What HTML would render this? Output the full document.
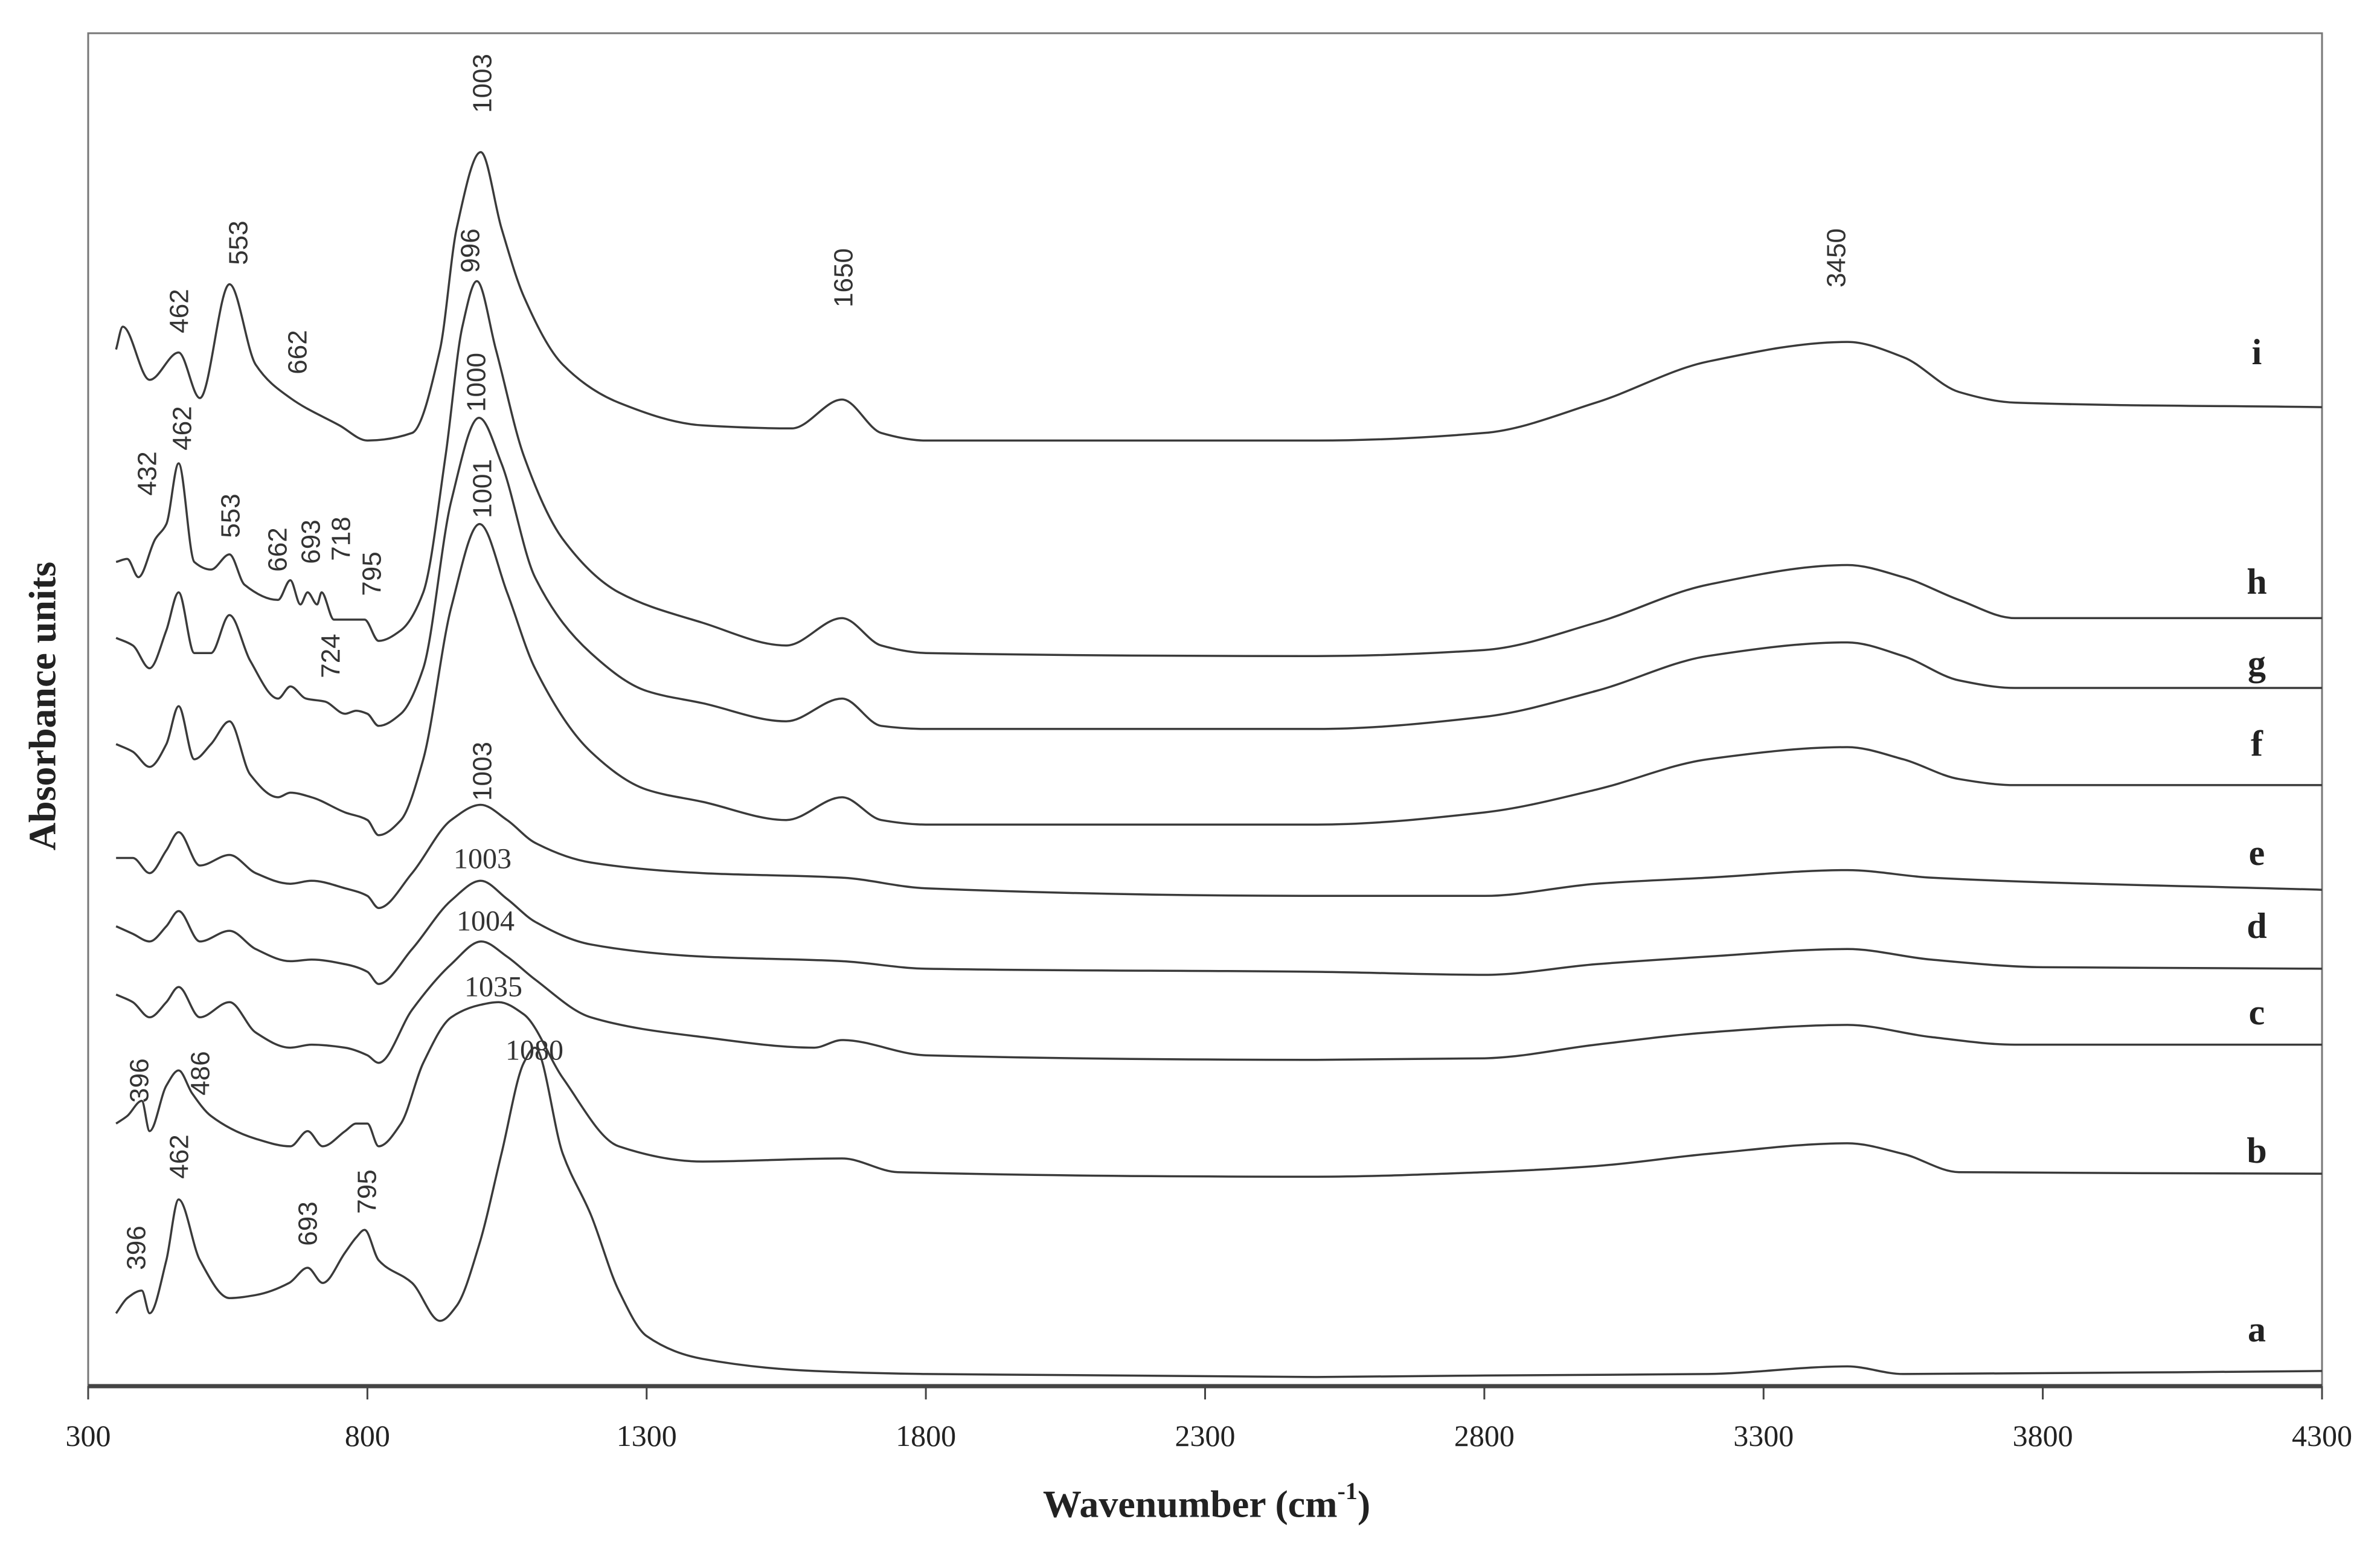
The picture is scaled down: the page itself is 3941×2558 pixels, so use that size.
<!DOCTYPE html>
<html><head><meta charset="utf-8">
<style>
html,body{margin:0;padding:0;background:#fff;}
svg{display:block;}
.pk{font-family:"Liberation Sans",sans-serif;font-size:44px;fill:#333;}
.pkh{font-family:"Liberation Serif",serif;font-size:48px;fill:#333;}
.lt{font-family:"Liberation Serif",serif;font-size:60px;font-weight:bold;fill:#222;}
.tk{font-family:"Liberation Serif",serif;font-size:50px;fill:#222;}
.ttl{font-family:"Liberation Serif",serif;font-size:64px;font-weight:bold;fill:#222;}
</style></head>
<body>
<svg id="chart" width="3941" height="2558" viewBox="0 0 3941 2558" xmlns="http://www.w3.org/2000/svg">
<rect x="146" y="55" width="3699" height="2240" fill="none" stroke="#777" stroke-width="3"/>
<line x1="146" y1="2295" x2="3845" y2="2295" stroke="#444" stroke-width="7"/>
<g id="ticks"></g>
<g id="series"></g>
<g>
<text class="pk" transform="translate(799,138) rotate(-90)" text-anchor="middle" dominant-baseline="central">1003</text>
<text class="pk" transform="translate(395,402) rotate(-90)" text-anchor="middle" dominant-baseline="central">553</text>
<text class="pk" transform="translate(297,515) rotate(-90)" text-anchor="middle" dominant-baseline="central">462</text>
<text class="pk" transform="translate(493,583) rotate(-90)" text-anchor="middle" dominant-baseline="central">662</text>
<text class="pk" transform="translate(1397,460) rotate(-90)" text-anchor="middle" dominant-baseline="central">1650</text>
<text class="pk" transform="translate(3041,427) rotate(-90)" text-anchor="middle" dominant-baseline="central">3450</text>
<text class="pk" transform="translate(779,415) rotate(-90)" text-anchor="middle" dominant-baseline="central">996</text>
<text class="pk" transform="translate(789,633) rotate(-90)" text-anchor="middle" dominant-baseline="central">1000</text>
<text class="pk" transform="translate(799,809) rotate(-90)" text-anchor="middle" dominant-baseline="central">1001</text>
<text class="pk" transform="translate(244,784) rotate(-90)" text-anchor="middle" dominant-baseline="central">432</text>
<text class="pk" transform="translate(302,709) rotate(-90)" text-anchor="middle" dominant-baseline="central">462</text>
<text class="pk" transform="translate(382,854) rotate(-90)" text-anchor="middle" dominant-baseline="central">553</text>
<text class="pk" transform="translate(460,910) rotate(-90)" text-anchor="middle" dominant-baseline="central">662</text>
<text class="pk" transform="translate(515,897) rotate(-90)" text-anchor="middle" dominant-baseline="central">693</text>
<text class="pk" transform="translate(565,892) rotate(-90)" text-anchor="middle" dominant-baseline="central">718</text>
<text class="pk" transform="translate(616,950) rotate(-90)" text-anchor="middle" dominant-baseline="central">795</text>
<text class="pk" transform="translate(548,1086) rotate(-90)" text-anchor="middle" dominant-baseline="central">724</text>
<text class="pk" transform="translate(799,1277) rotate(-90)" text-anchor="middle" dominant-baseline="central">1003</text>
<text class="pkh" x="799" y="1422" text-anchor="middle" dominant-baseline="central">1003</text>
<text class="pkh" x="804" y="1525" text-anchor="middle" dominant-baseline="central">1004</text>
<text class="pkh" x="817" y="1634" text-anchor="middle" dominant-baseline="central">1035</text>
<text class="pkh" x="885" y="1739" text-anchor="middle" dominant-baseline="central">1080</text>
<text class="pk" transform="translate(231,1789) rotate(-90)" text-anchor="middle" dominant-baseline="central">396</text>
<text class="pk" transform="translate(332,1777) rotate(-90)" text-anchor="middle" dominant-baseline="central">486</text>
<text class="pk" transform="translate(226,2066) rotate(-90)" text-anchor="middle" dominant-baseline="central">396</text>
<text class="pk" transform="translate(297,1915) rotate(-90)" text-anchor="middle" dominant-baseline="central">462</text>
<text class="pk" transform="translate(510,2026) rotate(-90)" text-anchor="middle" dominant-baseline="central">693</text>
<text class="pk" transform="translate(608,1973) rotate(-90)" text-anchor="middle" dominant-baseline="central">795</text>
</g>
<g>
<text class="lt" x="3737" y="583" text-anchor="middle" dominant-baseline="central">i</text>
<text class="lt" x="3737" y="963" text-anchor="middle" dominant-baseline="central">h</text>
<text class="lt" x="3737" y="1098" text-anchor="middle" dominant-baseline="central">g</text>
<text class="lt" x="3737" y="1231" text-anchor="middle" dominant-baseline="central">f</text>
<text class="lt" x="3737" y="1412" text-anchor="middle" dominant-baseline="central">e</text>
<text class="lt" x="3737" y="1533" text-anchor="middle" dominant-baseline="central">d</text>
<text class="lt" x="3737" y="1676" text-anchor="middle" dominant-baseline="central">c</text>
<text class="lt" x="3737" y="1905" text-anchor="middle" dominant-baseline="central">b</text>
<text class="lt" x="3737" y="2201" text-anchor="middle" dominant-baseline="central">a</text>
</g>
<text class="ttl" x="1998" y="2490" text-anchor="middle" dominant-baseline="central">Wavenumber (cm<tspan font-size="40" dy="-22">-1</tspan><tspan dy="22">)</tspan></text>
<text class="ttl" transform="translate(70,1169) rotate(-90)" text-anchor="middle" dominant-baseline="central" font-size="60">Absorbance units</text>
</svg>
<script>
const xTicks = [300, 800, 1300, 1800, 2300, 2800, 3300, 3800, 4300];
const seriesNames = ["a","b","c","d","e","f","g","h","i"];
const wA = [350,370,396,410,440,462,500,553,600,660,693,720,760,780,795,820,880,930,960,1000,1040,1080,1100,1150,1200,1250,1300,1400,1600,1800,2500,2800,3200,3450,3550,4300];
const vA = [48,58,63,48,83,123,83,58,60,68,78,68,88,98,103,83,68,43,53,93,153,213,223,153,113,63,33,18,10,8,6,7,8,13,8,10];
const wB = [350,370,396,410,440,462,486,520,600,662,693,720,760,780,800,820,860,900,950,1000,1035,1080,1150,1250,1400,1650,1750,2500,2800,3000,3200,3450,3550,3650,4300];
const vB = [173,178,188,168,198,208,193,178,163,158,168,158,168,173,173,158,173,213,243,251,253,245,203,158,148,150,141,138,141,145,153,160,153,141,140];
const wC = [350,380,410,440,462,500,553,600,662,700,760,800,820,880,950,1004,1050,1100,1200,1400,1600,1650,1800,2500,2800,3000,3200,3450,3600,3750,4300];
const vC = [258,253,243,253,263,243,253,233,223,225,223,218,213,248,278,293,283,268,243,230,223,228,218,215,216,225,233,238,230,225,225];
const wD = [350,380,410,440,462,500,553,600,662,700,760,800,820,880,950,1003,1050,1100,1200,1400,1650,1800,2500,2800,3000,3200,3450,3600,3800,4300];
const vD = [303,298,293,303,313,293,300,288,280,281,278,273,265,288,320,333,321,306,291,283,280,275,273,271,278,283,288,281,276,275];
const wE = [350,380,410,440,462,500,553,600,662,700,760,800,820,880,950,1003,1050,1100,1200,1400,1650,1800,2500,2800,3000,3200,3450,3600,4300];
const vE = [348,348,338,353,365,343,350,338,331,333,328,323,315,338,373,383,373,358,345,338,335,328,323,323,331,335,340,335,327];
const wF = [350,380,410,440,462,490,520,553,590,640,662,700,760,800,820,860,900,950,1001,1050,1100,1200,1300,1400,1550,1650,1720,1800,2500,2800,3000,3200,3450,3550,3650,3750,4300];
const vF = [423,418,408,423,448,413,423,438,403,388,391,388,378,373,363,373,413,513,568,523,473,418,393,385,373,388,373,370,370,378,393,413,421,413,400,396,396];
const wG = [350,380,410,440,462,490,520,553,590,640,662,690,724,760,780,800,820,860,900,950,1000,1040,1100,1200,1300,1400,1550,1650,1720,1800,2500,2800,3000,3200,3450,3550,3650,3750,4300];
const vG = [493,488,473,498,523,483,483,508,478,453,461,453,451,443,445,443,435,443,473,583,638,608,533,483,458,450,438,453,435,433,433,441,458,481,490,481,465,460,460];
const wH = [350,370,390,420,440,462,490,520,553,580,640,662,680,693,710,718,740,780,795,820,860,900,940,970,996,1030,1080,1150,1250,1400,1550,1650,1720,1800,2500,2800,3000,3200,3450,3550,3650,3750,4300];
const vH = [543,545,533,558,568,608,543,538,548,528,518,531,515,523,515,523,505,505,505,491,498,523,613,698,728,683,613,558,523,503,488,506,488,483,481,485,503,528,541,533,518,506,506];
const wI = [350,362,410,462,500,553,600,662,750,800,880,930,960,1003,1040,1080,1150,1250,1400,1560,1650,1720,1800,2500,2800,3000,3200,3450,3550,3650,3750,4300];
const vI = [683,698,663,681,651,726,673,651,633,623,628,683,763,813,763,718,673,648,633,631,650,628,623,623,628,648,675,688,678,655,648,645];

const SW = [wA,wB,wC,wD,wE,wF,wG,wH,wI];
const SV = [vA,vB,vC,vD,vE,vF,vG,vH,vI];
const X0=146, X1=3845, Y0=2295;
function xScale(w){ return X0 + (w-300)/4000*(X1-X0); }
function yScale(v){ return Y0 - v*2.513; }
const NS="http://www.w3.org/2000/svg";
const tg=document.getElementById('ticks');
xTicks.forEach(t=>{
  const l=document.createElementNS(NS,'line');
  l.setAttribute('x1',xScale(t));l.setAttribute('x2',xScale(t));
  l.setAttribute('y1',Y0);l.setAttribute('y2',Y0+22);
  l.setAttribute('stroke','#444');l.setAttribute('stroke-width','3');
  
  
  tg.appendChild(l);
  const tx=document.createElementNS(NS,'text');
  tx.setAttribute('x',xScale(t));tx.setAttribute('y',2377);
  tx.setAttribute('class','tk');tx.setAttribute('text-anchor','middle');
  tx.setAttribute('dominant-baseline','central');
  
  
  tx.textContent=t;
  tg.appendChild(tx);
});
function monoPath(pts){
  const n=pts.length, d=[], m=new Array(n);
  for(let i=0;i<n-1;i++) d.push((pts[i+1][1]-pts[i][1])/(pts[i+1][0]-pts[i][0]));
  m[0]=d[0]; m[n-1]=d[n-2];
  for(let i=1;i<n-1;i++){
    if(d[i-1]*d[i]<=0) m[i]=0;
    else { const h0=pts[i][0]-pts[i-1][0], h1=pts[i+1][0]-pts[i][0];
      const w1=2*h1+h0, w2=h1+2*h0; m[i]=(w1+w2)/(w1/d[i-1]+w2/d[i]); }
  }
  let s='M'+pts[0][0].toFixed(1)+','+pts[0][1].toFixed(1);
  for(let i=0;i<n-1;i++){
    const h=(pts[i+1][0]-pts[i][0])/3;
    s+=' C'+(pts[i][0]+h).toFixed(1)+','+(pts[i][1]+m[i]*h).toFixed(1)+' '+(pts[i+1][0]-h).toFixed(1)+','+(pts[i+1][1]-m[i+1]*h).toFixed(1)+' '+pts[i+1][0].toFixed(1)+','+pts[i+1][1].toFixed(1);
  }
  return s;
}
const sg=document.getElementById('series');
SW.forEach((ws,k)=>{
  const pts=ws.map((w,i)=>[xScale(w),yScale(SV[k][i])]);
  const p=document.createElementNS(NS,'path');
  p.setAttribute('d',monoPath(pts));p.setAttribute('fill','none');
  p.setAttribute('stroke','#3a3a3a');p.setAttribute('stroke-width','3.5');
  p.setAttribute('stroke-linejoin','round');
  
  
  sg.appendChild(p);
});
</script>
</body></html>
